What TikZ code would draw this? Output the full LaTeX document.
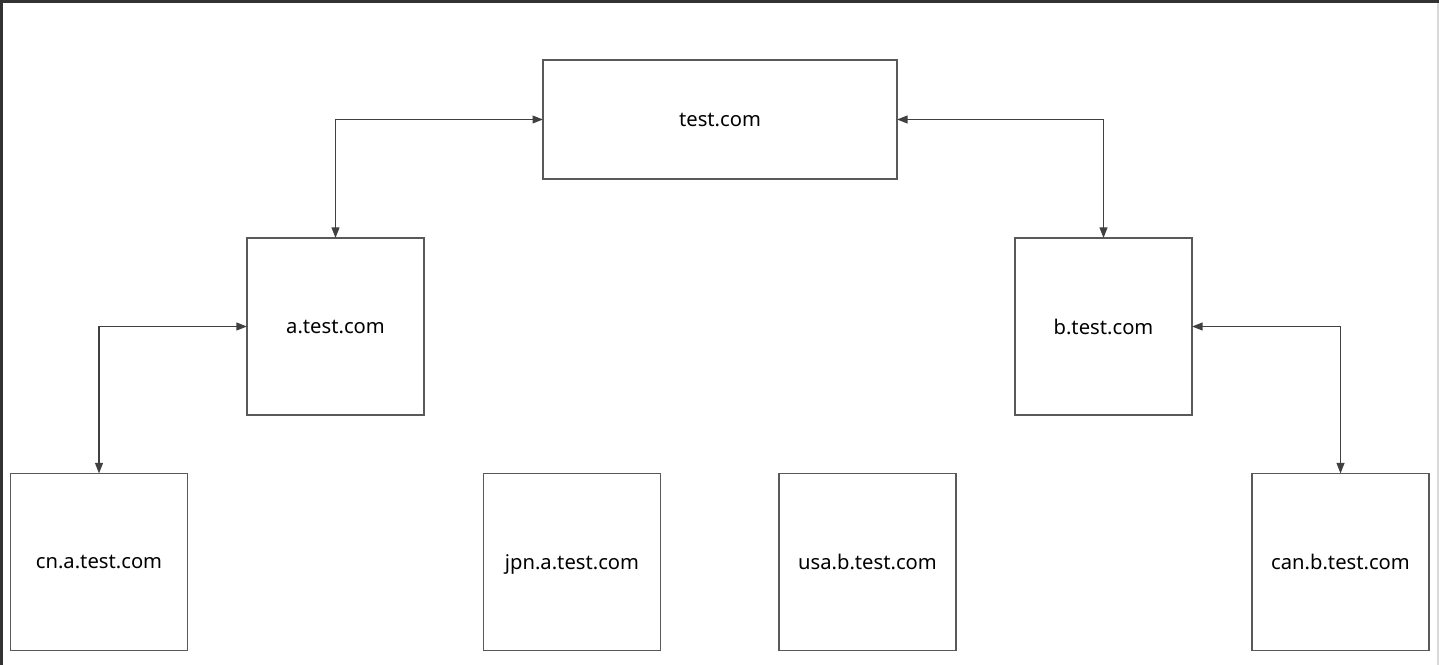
\documentclass[tikz,border=0pt]{standalone}
\usepackage{fontspec}
\setmainfont{Noto Sans}
\usetikzlibrary{arrows.meta}
\begin{document}
\begin{tikzpicture}[x=0.02cm,y=-0.02cm,
		site/.style={draw=black!65,line width=0.9pt,fill=white,inner sep=0pt,outer sep=0pt,
			minimum width=3.54cm,minimum height=3.54cm,text depth=0pt,font=\fontsize{11.5}{13}\selectfont},
		link/.style={draw=black!75,line width=0.9pt,{Triangle[length=6pt,width=4.4pt]}-{Triangle[length=6pt,width=4.4pt]}}]
	\useasboundingbox (0,0) rectangle (1439,665);
	% screen frame
	\fill[black!80] (0,0) rectangle (1439,665);
	\fill[white] (3,3) rectangle (1437,665);
	\fill[black!15] (1437,3) rectangle (1439,665);
	% sites
	\node[site,minimum width=7.08cm,minimum height=2.38cm] (root) at (720,119.5) {test.com};
	\node[site] (a) at (335.5,326.5) {a.test.com};
	\node[site] (b) at (1103.5,326.5) {b.test.com};
	\node[site] (cn) at (99,562) {cn.a.test.com};
	\node[site] (jpn) at (572,562) {jpn.a.test.com};
	\node[site] (usa) at (867.5,562) {usa.b.test.com};
	\node[site] (can) at (1340.5,562) {can.b.test.com};
	% links
	\draw[link] (root.west) -| (a.north);
	\draw[link] (root.east) -| (b.north);
	\draw[link] (a.west) -| (cn.north);
	\draw[link] (b.east) -| (can.north);
\end{tikzpicture}
\end{document}
